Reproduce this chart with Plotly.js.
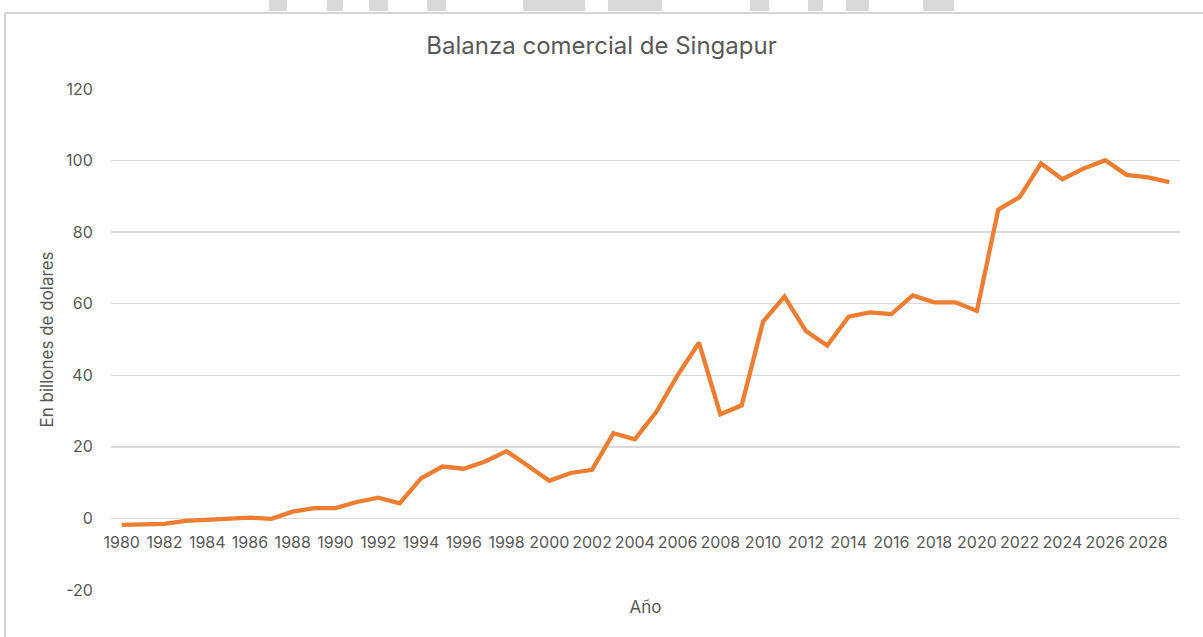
<!DOCTYPE html>
<html>
<head>
<meta charset="utf-8">
<script src="https://cdn.plot.ly/plotly-3.0.1.min.js"></script>
<style>
  html, body { margin: 0; padding: 0; background: #fff; }
  #wrap { position: relative; width: 1203px; height: 637px; overflow: hidden; background: #fff; }
  #frame { position: absolute; left: 4px; top: 12px; width: 1300px; height: 700px; border: 2px solid #d4d4d4; box-sizing: border-box; }
  .wm { position: absolute; top: 0; height: 11px; background: #d9d9d9; }
  #chart { position: absolute; left: 0; top: 0; width: 1203px; height: 637px; }
</style>
</head>
<body>
<div id="wrap">
  <div class="wm" style="left:269px;width:18px"></div>
  <div class="wm" style="left:327px;width:16px"></div>
  <div class="wm" style="left:369px;width:19px"></div>
  <div class="wm" style="left:427px;width:19px"></div>
  <div class="wm" style="left:523px;width:62px"></div>
  <div class="wm" style="left:608px;width:54px"></div>
  <div class="wm" style="left:750px;width:19px"></div>
  <div class="wm" style="left:808px;width:15px"></div>
  <div class="wm" style="left:846px;width:23px"></div>
  <div class="wm" style="left:923px;width:31px"></div>
  <div id="frame"></div>
  <div id="chart"></div>
</div>
<script>
const years = [1980,1981,1982,1983,1984,1985,1986,1987,1988,1989,
               1990,1991,1992,1993,1994,1995,1996,1997,1998,1999,
               2000,2001,2002,2003,2004,2005,2006,2007,2008,2009,
               2010,2011,2012,2013,2014,2015,2016,2017,2018,2019,
               2020,2021,2022,2023,2024,2025,2026,2027,2028,2029];
const balance = [-1.8,-1.6,-1.5,-0.7,-0.4,-0.1,0.2,-0.1,1.9,2.9,
                 2.9,4.6,5.8,4.2,11.2,14.5,13.9,15.9,18.8,14.7,
                 10.5,12.7,13.6,23.8,22.1,29.7,40.0,49.1,29.1,31.6,
                 55.0,62.0,52.4,48.3,56.4,57.6,57.1,62.3,60.4,60.4,
                 58.0,86.3,89.8,99.2,94.8,97.8,100.1,96.0,95.3,94.0];
const yTicks = [-20,0,20,40,60,80,100,120];

const FONT = 'Inter, "Open Sans", "Liberation Sans", sans-serif';
const GREY = '#595959';

const trace = {
  x: years,
  y: balance,
  type: 'scatter',
  mode: 'lines',
  line: { color: '#ED7D31', width: 4.3, shape: 'linear' },
  hoverinfo: 'x+y'
};

const layout = {
  width: 1203,
  height: 637,
  paper_bgcolor: 'rgba(0,0,0,0)',
  plot_bgcolor: 'rgba(0,0,0,0)',
  margin: { l: 111, r: 23, t: 89, b: 47 },
  showlegend: false,
  title: {
    text: 'Balanza comercial de Singapur',
    font: { family: FONT, size: 24, color: GREY },
    x: 0.5, xanchor: 'center',
    y: 1 - 46/637, yanchor: 'middle', yref: 'container'
  },
  xaxis: {
    range: [1979.5, 2029.5],
    tickmode: 'linear', tick0: 1980, dtick: 2,
    anchor: 'free', position: 20/140,
    showgrid: false, zeroline: false, showline: false,
    ticks: 'outside', ticklen: 9, tickcolor: 'rgba(0,0,0,0)',
    tickfont: { family: FONT, size: 16, color: GREY },
    title: { text: 'Año', font: { family: FONT, size: 17, color: GREY }, standoff: 50 },
    fixedrange: true
  },
  yaxis: {
    range: [-20, 120],
    tickmode: 'array', tickvals: yTicks, ticktext: yTicks.map(String),
    showgrid: true, gridcolor: '#d9d9d9', gridwidth: 1.3,
    zeroline: false, showline: false,
    ticks: 'outside', ticklen: 14, tickcolor: 'rgba(0,0,0,0)',
    tickfont: { family: FONT, size: 16, color: GREY },
    title: { text: 'En billones de dolares', font: { family: FONT, size: 17, color: GREY }, standoff: 8 },
    fixedrange: true
  }
};

Plotly.newPlot('chart', [trace], layout, { displayModeBar: false, staticPlot: true });
</script>
</body>
</html>
